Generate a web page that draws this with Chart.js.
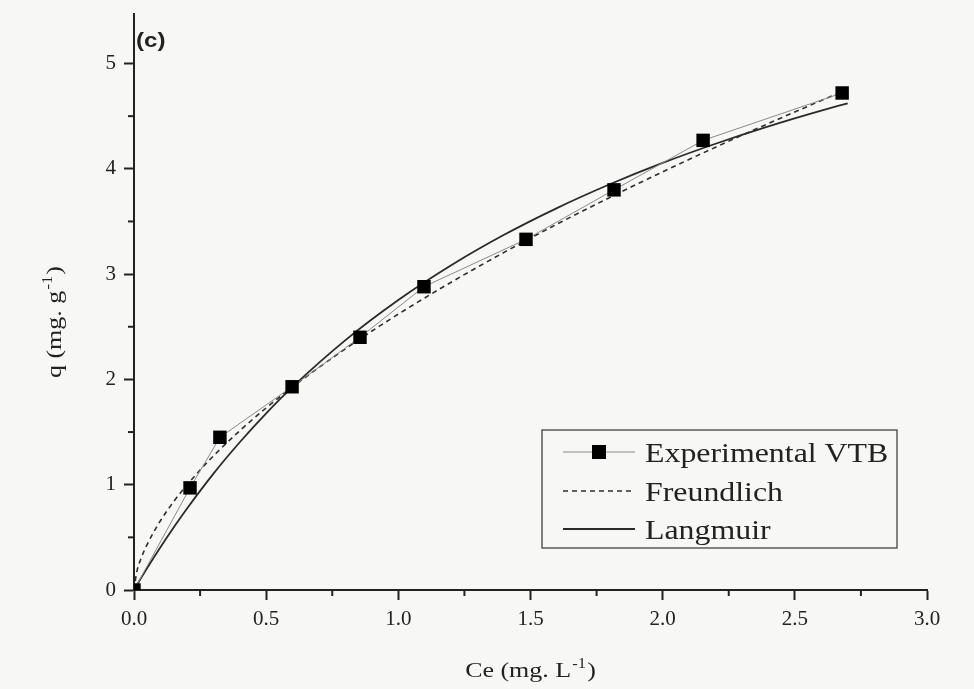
<!DOCTYPE html>
<html>
<head>
<meta charset="utf-8">
<script src="https://cdn.jsdelivr.net/npm/chart.js@4.4.1/dist/chart.umd.min.js"></script>
<style>
  html, body { margin: 0; padding: 0; background: #f7f7f5; }
  #wrap { position: relative; width: 974px; height: 689px; }
</style>
</head>
<body>
<div id="wrap"><canvas id="chart" width="974" height="689"></canvas></div>
<script>
// ── Data ─────────────────────────────────────────────────────
const ceExp = [0, 0.212, 0.325, 0.598, 0.855, 1.097, 1.483, 1.816, 2.153, 2.679];
const qExp  = [0, 0.97, 1.45, 1.93, 2.40, 2.88, 3.33, 3.80, 4.27, 4.72];

const ceFit       = [0, 0.01, 0.03, 0.05, 0.1, 0.15, 0.2, 0.3, 0.4, 0.5, 0.6, 0.8, 1.0, 1.2, 1.4, 1.6, 1.8, 2.0, 2.2, 2.4, 2.6, 2.7];
const qFreundlich = [0, 0.165, 0.320, 0.434, 0.658, 0.839, 0.997, 1.272, 1.512, 1.729, 1.929, 2.291, 2.62, 2.923, 3.206, 3.474, 3.728, 3.971, 4.205, 4.430, 4.648, 4.755];
const qLangmuir   = [0, 0.043, 0.127, 0.209, 0.406, 0.594, 0.772, 1.103, 1.403, 1.678, 1.929, 2.373, 2.754, 3.084, 3.373, 3.627, 3.853, 4.056, 4.238, 4.403, 4.552, 4.622];

const xTicks = [0, 0.5, 1.0, 1.5, 2.0, 2.5, 3.0];
const yTicks = [0, 1, 2, 3, 4, 5];
const seriesNames = ['Experimental VTB', 'Freundlich', 'Langmuir'];

const pts = (xs, ys) => xs.map((x, i) => ({ x, y: ys[i] }));

const SERIF = '"Liberation Serif", "Times New Roman", serif';
const INK = '#222';
const STRETCH = 1.18;   // the source figure is a bit wide-set

// draw "main" + raised small "sup" + "tail", centred on 0, stretched
function supLabel(ctx, main, sup, tail, size) {
  const big = size + 'px ' + SERIF, small = Math.round(size * 0.62) + 'px ' + SERIF;
  ctx.font = big;   const w1 = ctx.measureText(main).width;
  ctx.font = small; const w2 = ctx.measureText(sup).width;
  ctx.font = big;   const w3 = ctx.measureText(tail).width;
  const total = w1 + w2 + w3 + 2;
  ctx.save();
  ctx.scale(STRETCH, 1);
  let x = -total / 2;
  ctx.textAlign = 'left';
  ctx.textBaseline = 'alphabetic';
  ctx.font = big;   ctx.fillText(main, x, 0); x += w1 + 1;
  ctx.font = small; ctx.fillText(sup, x, -size * 0.42); x += w2 + 1;
  ctx.font = big;   ctx.fillText(tail, x, 0);
  ctx.restore();
}

// ── Plugins ──────────────────────────────────────────────────
const paperBg = {
  id: 'paperBg',
  beforeDraw(chart) {
    const { ctx, width, height } = chart;
    ctx.save();
    ctx.fillStyle = '#f7f7f5';
    ctx.fillRect(0, 0, width, height);
    ctx.restore();
  }
};

// minor ticks, axis titles, panel label, boxed legend
const extras = {
  id: 'extras',
  afterDraw(chart) {
    const { ctx, scales: { x, y } } = chart;
    ctx.save();
    ctx.strokeStyle = INK;
    ctx.lineWidth = 2;
    for (let v = 0.25; v < 3; v += 0.5) {
      const px = x.getPixelForValue(v);
      ctx.beginPath(); ctx.moveTo(px, y.bottom); ctx.lineTo(px, y.bottom + 6); ctx.stroke();
    }
    for (let v = 0.5; v < 5.4; v += 1) {
      const py = y.getPixelForValue(v);
      ctx.beginPath(); ctx.moveTo(x.left, py); ctx.lineTo(x.left - 6, py); ctx.stroke();
    }

    ctx.fillStyle = INK;
    // x title
    ctx.save();
    ctx.translate((x.left + x.right) / 2, 677);
    supLabel(ctx, 'Ce (mg. L', '-1', ')', 22);
    ctx.restore();
    // y title
    ctx.save();
    ctx.translate(61, 322);
    ctx.rotate(-Math.PI / 2);
    supLabel(ctx, 'q (mg. g', '-1', ')', 22);
    ctx.restore();

    // panel label
    ctx.save();
    ctx.translate(136, 47);
    ctx.scale(1.15, 1);
    ctx.font = 'bold 21px "Liberation Sans", Arial, sans-serif';
    ctx.textAlign = 'left';
    ctx.fillText('(c)', 0, 0);
    ctx.restore();

    // legend box
    const bx = 542, by = 430, bw = 355, bh = 118;
    ctx.lineWidth = 1.2;
    ctx.strokeStyle = '#333';
    ctx.strokeRect(bx, by, bw, bh);
    const rows = [452, 491, 529];
    const ds = chart.data.datasets;
    rows.forEach((ry, i) => {
      const d = ds[i];
      ctx.strokeStyle = d.borderColor;
      ctx.lineWidth = d.borderWidth;
      ctx.setLineDash(d.borderDash || []);
      ctx.beginPath(); ctx.moveTo(563, ry); ctx.lineTo(635, ry); ctx.stroke();
      ctx.setLineDash([]);
      if (d.pointRadius > 0) {
        ctx.fillStyle = d.pointBackgroundColor;
        ctx.fillRect(592, ry - 7, 14, 14);
      }
      ctx.save();
      ctx.translate(645, ry + 10);
      ctx.scale(STRETCH, 1);
      ctx.fillStyle = INK;
      ctx.font = '27px ' + SERIF;
      ctx.textAlign = 'left';
      ctx.textBaseline = 'alphabetic';
      ctx.fillText(seriesNames[i], 0, 0);
      ctx.restore();
    });
    ctx.restore();
  }
};

// ── Chart ────────────────────────────────────────────────────
new Chart(document.getElementById('chart'), {
  type: 'scatter',
  data: {
    datasets: [
      {
        label: seriesNames[0],
        data: pts(ceExp, qExp),
        showLine: true,
        borderColor: '#8a8a8a',
        borderWidth: 1,
        pointStyle: 'rect',
        pointRadius: 9.5,
        pointBackgroundColor: '#000',
        pointBorderColor: '#000',
        pointBorderWidth: 0,
        order: 0
      },
      {
        label: seriesNames[1],
        data: pts(ceFit, qFreundlich),
        showLine: true,
        borderColor: '#2e2e2e',
        borderWidth: 1.6,
        borderDash: [5, 4],
        pointRadius: 0,
        cubicInterpolationMode: 'monotone',
        order: 1
      },
      {
        label: seriesNames[2],
        data: pts(ceFit, qLangmuir),
        showLine: true,
        borderColor: '#2a2a2a',
        borderWidth: 1.8,
        pointRadius: 0,
        cubicInterpolationMode: 'monotone',
        order: 2
      }
    ]
  },
  options: {
    responsive: false,
    animation: false,
    devicePixelRatio: 1,
    layout: { padding: { left: 0, top: 14, right: 47, bottom: 0 } },
    plugins: {
      legend: { display: false },
      tooltip: { enabled: false }
    },
    scales: {
      x: {
        type: 'linear',
        min: 0, max: 3,
        afterBuildTicks: s => { s.ticks = xTicks.map(v => ({ value: v })); },
        afterFit: s => { s.height = 99; s.paddingLeft = 0; s.paddingRight = 0; },
        border: { color: INK, width: 2 },
        grid: { drawOnChartArea: false, color: INK, tickLength: 10, tickWidth: 2 },
        ticks: {
          color: INK, padding: 7,
          font: { family: SERIF, size: 21 },
          callback: v => Number(v).toFixed(1)
        }
      },
      y: {
        type: 'linear',
        min: 0, max: 5.47,
        afterBuildTicks: s => { s.ticks = yTicks.map(v => ({ value: v })); },
        afterFit: s => { s.width = 134; s.paddingTop = 0; s.paddingBottom = 0; },
        border: { color: INK, width: 2 },
        grid: { drawOnChartArea: false, color: INK, tickLength: 10, tickWidth: 2 },
        ticks: {
          color: INK, padding: 8,
          font: { family: SERIF, size: 21 },
          callback: v => String(v)
        }
      }
    }
  },
  plugins: [paperBg, extras]
});
</script>
</body>
</html>
